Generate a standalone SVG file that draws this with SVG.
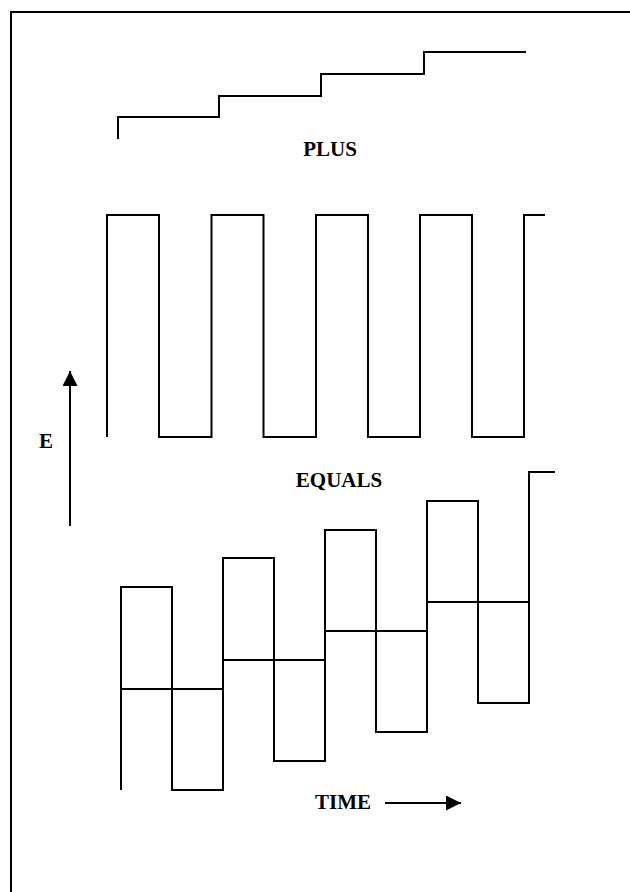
<svg xmlns="http://www.w3.org/2000/svg" width="630" height="892" viewBox="0 0 630 892">
  <style>
    .ln { fill: none; stroke: #000; stroke-width: 2; stroke-linejoin: miter; stroke-linecap: butt; }
    .lbl { font-family: "Liberation Serif", "Times New Roman", serif; font-weight: bold; font-size: 21px; fill: #000; }
  </style>
  <defs>
    <marker id="ah" markerWidth="16" markerHeight="16" refX="15" refY="7.5" orient="auto" markerUnits="userSpaceOnUse">
      <path d="M0,0 L15,7.5 L0,15 Z" fill="#000"/>
    </marker>
  </defs>
  <rect width="630" height="892" fill="#fff"/>
  <g id="frame">
    <path class="ln" d="M11,892 V12 H630"/>
  </g>
  <g id="staircase">
    <path class="ln" d="M118,139 V117 H219 V96 H321 V74 H424 V52 H526"/>
  </g>
  <g id="plus-label">
    <text class="lbl" x="330" y="156" text-anchor="middle">PLUS</text>
  </g>
  <g id="square-wave">
    <path class="ln" d="M107,437 V215 H159 V437 H211.5 V215 H263.5 V437 H316 V215 H368 V437 H420 V215 H472 V437 H524 V215 H545"/>
  </g>
  <g id="e-label">
    <text class="lbl" x="39" y="448">E</text>
  </g>
  <g id="equals-label">
    <text class="lbl" x="339" y="487" text-anchor="middle">EQUALS</text>
  </g>
  <g id="sum-wave">
    <path class="ln" d="M121,790 V587 H172 V790 H223 V558 H274 V761 H325 V530 H376 V732 H427 V501 H478 V703 H529 V472 H555"/>
    <path class="ln" d="M121,689 H223 V660 H325 V631 H427 V602 H529"/>
  </g>
  <g id="time-label">
    <text class="lbl" x="343" y="809" text-anchor="middle">TIME</text>
  </g>
  <g id="connectors">
    <line class="ln" x1="70" y1="526" x2="70" y2="371" marker-end="url(#ah)"/>
    <line class="ln" x1="385" y1="803" x2="461" y2="803" marker-end="url(#ah)"/>
  </g>
</svg>
